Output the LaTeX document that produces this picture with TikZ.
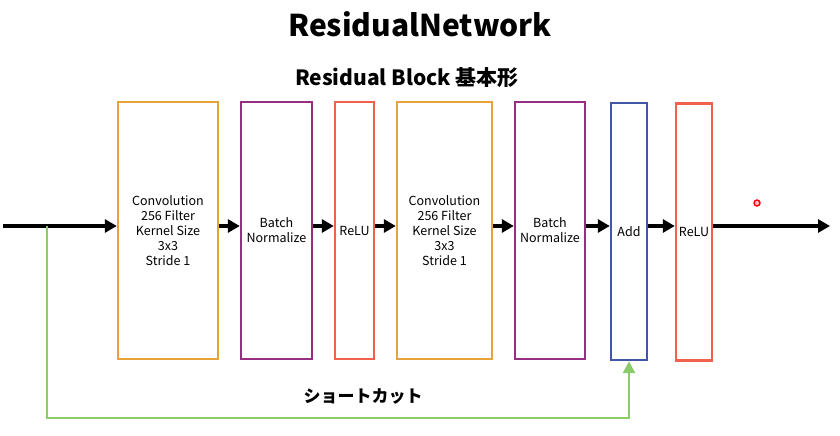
\documentclass[tikz,border=0pt]{standalone}
\usepackage{fontspec}
\setmainfont{Noto Sans CJK JP}
\usetikzlibrary{arrows.meta}
\definecolor{convorange}{HTML}{E8A23A}
\definecolor{bnpurple}{HTML}{962F7F}
\definecolor{relured}{HTML}{F0604A}
\definecolor{addblue}{HTML}{4258A6}
\definecolor{skipgreen}{HTML}{8CCB6A}
\begin{document}
\begin{tikzpicture}[x=1pt, y=-1pt,
    layer/.style={draw, line width=2.4pt, fill=white, align=center, inner sep=0pt,
      minimum height=257pt, font=\fontsize{12.5}{15}\selectfont},
    flow/.style={line width=3.2pt, -{Triangle[length=12pt, width=13pt]}},
    skip/.style={line width=2.8pt, draw=skipgreen, -{Triangle[length=12pt, width=12pt, fill=skipgreen]}}]
  \useasboundingbox (0,0) rectangle (840,436);
  % titles
  \node[font=\fontsize{30}{33}\selectfont\bfseries] (title) at (420,24) {ResidualNetwork};
  \node[font=\fontsize{21}{24}\selectfont\bfseries] (subtitle) at (407,78) {Residual Block 基本形};
  % layers
  \node[layer, draw=convorange, minimum width=100pt] (conv1) at (168,230.5)
    {Convolution\\256 Filter\\Kernel Size\\3x3\\Stride 1};
  \node[layer, draw=bnpurple, minimum width=71pt] (bn1) at (276.5,230.5) {Batch\\Normalize};
  \node[layer, draw=relured, minimum width=39pt] (relu1) at (354.5,230.5) {ReLU};
  \node[layer, draw=convorange, minimum width=95pt] (conv2) at (444.5,230.5)
    {Convolution\\256 Filter\\Kernel Size\\3x3\\Stride 1};
  \node[layer, draw=bnpurple, minimum width=70pt] (bn2) at (550,230.5) {Batch\\Normalize};
  \node[layer, draw=addblue, minimum width=36pt] (add) at (629,231.5) {Add};
  \node[layer, draw=relured, minimum width=36pt] (relu2) at (694,232) {ReLU};
  \coordinate (input) at (3,226);
  \coordinate (output) at (830,226);
  \coordinate (split) at (47,226);
  % main path
  \draw[flow] (input) -- (input -| conv1.west);
  \draw[flow] (conv1.east |- input) -- (bn1.west |- input);
  \draw[flow] (bn1.east |- input) -- (relu1.west |- input);
  \draw[flow] (relu1.east |- input) -- (conv2.west |- input);
  \draw[flow] (conv2.east |- input) -- (bn2.west |- input);
  \draw[flow] (bn2.east |- input) -- (add.west |- input);
  \draw[flow] (add.east |- input) -- (relu2.west |- input);
  \draw[flow] (relu2.east |- input) -- (output);
  % shortcut
  \draw[skip] (split) -- (split |- 0,418) -| (add.south);
  \node[font=\fontsize{17}{20}\selectfont\bfseries] (shortcut) at (363,396) {ショートカット};
  \node[circle, draw=red, fill=red!25, line width=1.4pt, minimum size=6pt, inner sep=0pt] (pointer) at (757,203) {};
\end{tikzpicture}
\end{document}
